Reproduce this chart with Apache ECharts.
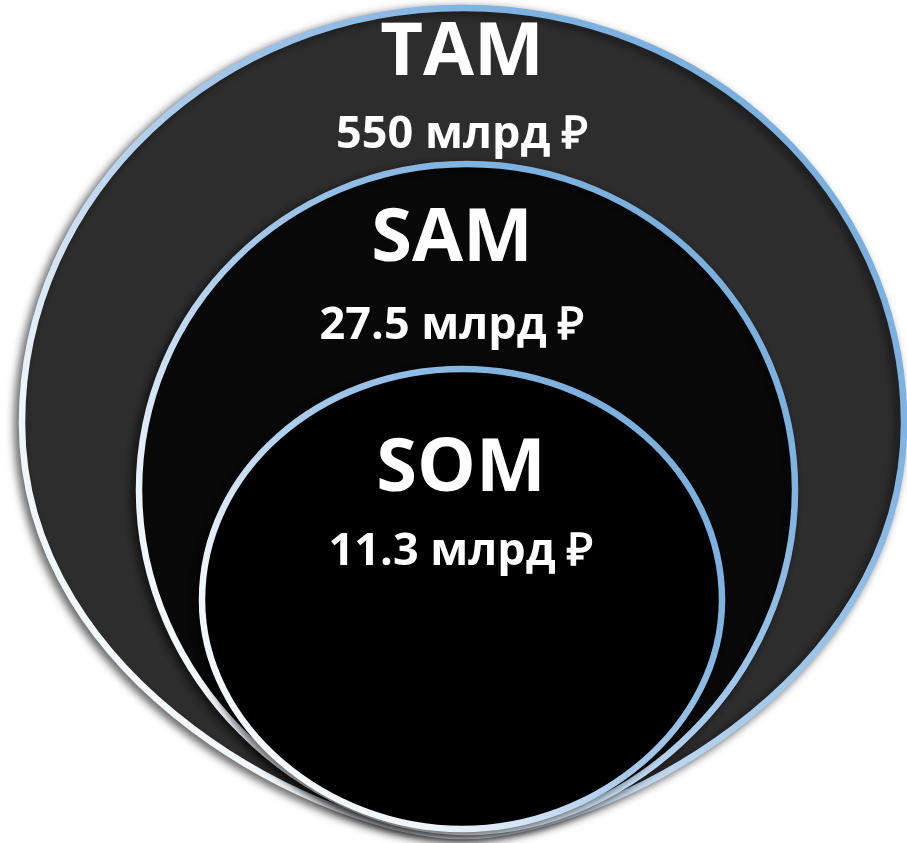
<!DOCTYPE html>
<html>
<head>
<meta charset="utf-8">
<script src="https://cdn.jsdelivr.net/npm/echarts@6/dist/echarts.min.js"></script>
<style>
  html, body { margin: 0; padding: 0; background: #fff; }
  #main { width: 907px; height: 843px; }
</style>
</head>
<body>
<div id="main"></div>
<script>
// market names and sizes
var markets = ['TAM', 'SAM', 'SOM'];
var marketValues = [550, 27.5, 11.3];
var unit = 'млрд ₽';

// layout of the nested ovals (pixels, 1:1 with the hidden axes)
var ovals = [
  { cx: 463, top: 8, mid: 423, bottom: 836, rx: 441, k1: 0.64, k2: 0.3, fill: '#2d2d2d' },
  { cx: 467, top: 164, mid: 490, bottom: 832, rx: 328, k1: 0.552, k2: 0.5, fill: '#080808' },
  { cx: 462, top: 369, mid: 600, bottom: 829, rx: 260, k1: 0.552, k2: 0.52, fill: '#000000' }
];
// label centres: [x, titleY, valueY]
var labelPos = [
  [462, 54, 135],
  [452, 240, 326],
  [461, 470, 552]
];

var chart = echarts.init(document.getElementById('main'));

function ovalPath(g, api) {
  var k = 0.5523;
  var h1 = g.mid - g.top, h2 = g.bottom - g.mid;
  function p(x, y) {
    var c = api.coord([x, y]);
    return c[0].toFixed(1) + ' ' + c[1].toFixed(1);
  }
  return 'M' + p(g.cx, g.top) +
    ' C' + p(g.cx + k * g.rx, g.top) + ' ' + p(g.cx + g.rx, g.mid - k * h1) + ' ' + p(g.cx + g.rx, g.mid) +
    ' C' + p(g.cx + g.rx, g.mid + g.k1 * h2) + ' ' + p(g.cx + g.k2 * g.rx, g.bottom) + ' ' + p(g.cx, g.bottom) +
    ' C' + p(g.cx - g.k2 * g.rx, g.bottom) + ' ' + p(g.cx - g.rx, g.mid + g.k1 * h2) + ' ' + p(g.cx - g.rx, g.mid) +
    ' C' + p(g.cx - g.rx, g.mid - k * h1) + ' ' + p(g.cx - k * g.rx, g.top) + ' ' + p(g.cx, g.top) + ' Z';
}

function renderItem(params, api) {
  var i = api.value(0);
  var g = ovals[i];
  var lp = labelPos[i];
  var t = api.coord([lp[0], lp[1]]);
  var v = api.coord([lp[0], lp[2]]);
  return {
    type: 'group',
    children: [
      {
        type: 'path',
        shape: { pathData: ovalPath(g, api) },
        style: {
          fill: g.fill,
          stroke: new echarts.graphic.LinearGradient(0, 1, 1, 0, [
            { offset: 0, color: '#ffffff' },
            { offset: 0.25, color: '#eef5fb' },
            { offset: 0.5, color: '#a9cbec' },
            { offset: 0.75, color: '#80b3e0' },
            { offset: 1, color: '#72a9dc' }
          ]),
          lineWidth: 6.5,
          shadowBlur: 10,
          shadowColor: 'rgba(0,0,0,0.55)',
          shadowOffsetX: -4,
          shadowOffsetY: 3
        }
      },
      {
        type: 'text',
        x: t[0], y: t[1],
        style: {
          text: markets[i],
          fill: '#fff',
          fontSize: 74,
          fontWeight: 'bold',
          fontFamily: 'Open Sans',
          align: 'center',
          verticalAlign: 'middle'
        }
      },
      {
        type: 'text',
        x: v[0], y: v[1],
        style: {
          text: api.value(1) + ' ' + unit,
          fill: '#fff',
          fontSize: 45,
          fontWeight: 'bold',
          fontFamily: 'Open Sans',
          align: 'center',
          verticalAlign: 'middle'
        }
      }
    ]
  };
}

var option = {
  animation: false,
  grid: { left: 0, right: 0, top: 0, bottom: 0 },
  xAxis: { type: 'value', min: 0, max: 907, show: false },
  yAxis: { type: 'value', min: 0, max: 843, inverse: true, show: false },
  series: [
    {
      type: 'custom',
      renderItem: renderItem,
      data: markets.map(function (m, i) { return [i, marketValues[i]]; })
    }
  ]
};

chart.setOption(option);
</script>
</body>
</html>
